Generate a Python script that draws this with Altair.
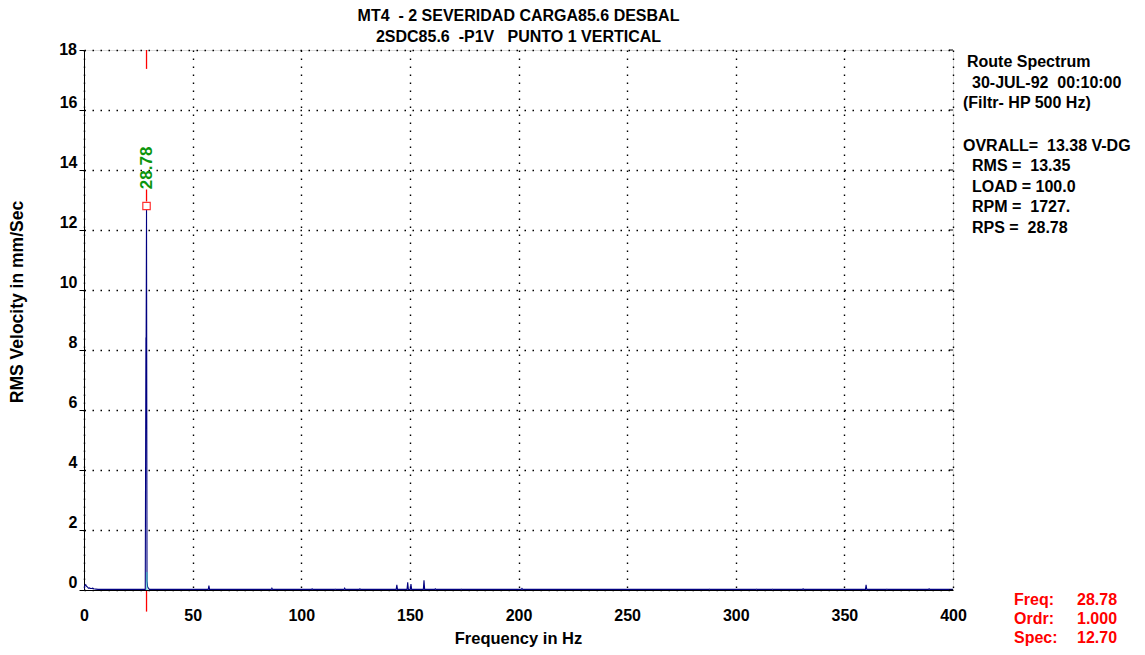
import altair as alt
import pandas as pd

# ---------------- data ----------------
FREQ = [0.0, 0.4, 0.8, 1.2, 1.6, 2.0, 2.5, 3.0, 3.5, 4.0, 4.5, 5.5, 6.5,
        28.2, 28.5, 28.6, 28.78, 29.0, 29.3, 29.7, 30.1,
        57.2, 57.5, 57.8,
        86.2, 86.5, 86.8,
        104.7, 105.0, 105.3,
        115.3, 115.6, 115.9,
        119.7, 120.0, 120.3,
        126.7, 127.0, 127.3,
        143.7, 144.0, 144.3,
        148.7, 149.0, 149.3,
        150.2, 150.5, 150.8,
        156.2, 156.5, 156.8,
        161.4, 161.7, 162.0,
        173.3, 173.6, 173.9,
        201.3, 201.6, 201.9,
        287.7, 288.0, 288.3,
        309.2, 309.5, 309.8,
        316.7, 317.0, 317.3,
        330.7, 331.0, 331.3,
        359.7, 360.0, 360.3,
        369.3, 369.6, 369.9,
        388.7, 389.0, 389.3,
        400.0]
AMP = [0.03, 0.15, 0.18, 0.12, 0.10, 0.06, 0.07, 0.05, 0.05, 0.06, 0.04, 0.03, 0.02,
       0.02, 8.4, 8.4, 12.8, 0.3, 0.1, 0.06, 0.02,
       0.02, 0.15, 0.02,
       0.02, 0.06, 0.02,
       0.02, 0.04, 0.02,
       0.02, 0.03, 0.02,
       0.02, 0.06, 0.02,
       0.02, 0.04, 0.02,
       0.02, 0.17, 0.02,
       0.02, 0.26, 0.02,
       0.02, 0.20, 0.02,
       0.02, 0.32, 0.02,
       0.02, 0.04, 0.02,
       0.02, 0.03, 0.02,
       0.02, 0.05, 0.02,
       0.02, 0.03, 0.02,
       0.02, 0.03, 0.02,
       0.02, 0.03, 0.02,
       0.02, 0.04, 0.02,
       0.02, 0.17, 0.02,
       0.02, 0.03, 0.02,
       0.02, 0.04, 0.02,
       0.02]

PEAK_FREQ = 28.78
PEAK_AMP = 12.8
PEAK_LABEL = "28.78"
LABEL_LEVEL = 14.07
CYAN_FREQ = 28.95
CYAN_TOP = 0.6
# red cursor segments (start, end) in mm/Sec
CURSOR_SEG_START = [18.0, 13.35, -0.03]
CURSOR_SEG_END = [17.37, 12.95, -0.72]

X_TICKS = [0, 50, 100, 150, 200, 250, 300, 350, 400]
Y_TICKS = [0, 2, 4, 6, 8, 10, 12, 14, 16, 18]
Y_TOP = 18

TITLE_LINES = ["MT4\u00a0 - 2 SEVERIDAD CARGA85.6 DESBAL",
               "2SDC85.6\u00a0 -P1V\u00a0\u00a0 PUNTO 1 VERTICAL"]
INFO_LINES = ["Route Spectrum", "30-JUL-92\u00a0 00:10:00", "(Filtr- HP 500 Hz)",
              "OVRALL=\u00a0 13.38 V-DG", "RMS =\u00a0 13.35", "LOAD = 100.0",
              "RPM =\u00a0 1727.", "RPS =\u00a0 28.78"]
CURSOR_LABELS = ["Freq:", "Ordr:", "Spec:"]
CURSOR_VALUES = ["28.78", "1.000", "12.70"]
X_TITLE = "Frequency in Hz"
Y_TITLE = "RMS Velocity in mm/Sec"

# ---------------- layout ----------------
W, H = 869, 540
FONT = "Liberation Sans"
NAVY = "#000080"
FS = 16

spec = pd.DataFrame({"f": FREQ, "a": AMP})

xscale = alt.Scale(domain=[0, 400], nice=False, zero=False)
yscale = alt.Scale(domain=[0, 18], nice=False)

xaxis = alt.Axis(values=X_TICKS, title=None, grid=True, gridColor="black",
                 gridDash=[1.5, 6.5], gridWidth=1.4, gridOpacity=1,
                 domainColor="black", ticks=False, labelPadding=17,
                 labelFont=FONT, labelFontWeight="bold", labelFontSize=FS,
                 labelColor="black", labelBaseline="top", labelFlush=False)
yaxis = alt.Axis(values=Y_TICKS, title=None, grid=True, gridColor="black",
                 gridDash=[1.5, 6.5], gridWidth=1.4, gridOpacity=1,
                 domainColor="black", tickColor="black", tickSize=5,
                 labelPadding=2, labelFont=FONT, labelFontWeight="bold",
                 labelFontSize=FS, labelColor="black", labelBaseline="bottom",
                 labelExpr="datum.value == 18 ? '' : datum.label")

line = alt.Chart(spec).mark_line(color=NAVY, strokeWidth=1.1, clip=True).encode(
    x=alt.X("f:Q", scale=xscale, axis=xaxis),
    y=alt.Y("a:Q", scale=yscale, axis=yaxis),
)

# the top tick label sits centred on its tick
top_lab = alt.Chart(pd.DataFrame({"v": [Y_TOP], "t": [str(Y_TOP)]})).mark_text(
    font=FONT, fontSize=FS, fontWeight="bold", color="black", align="right",
    baseline="middle", clip=False).encode(
    x=alt.value(-7), y=alt.Y("v:Q", scale=yscale), text="t:N")

# small ticks inside the right border
rticks = alt.Chart(pd.DataFrame({"v": Y_TICKS})).mark_rule(
    color="black", strokeWidth=1).encode(
    y=alt.Y("v:Q", scale=yscale), x=alt.value(W - 4), x2=alt.value(W))

peak = pd.DataFrame({"f": [PEAK_FREQ], "a": [PEAK_AMP], "lab": [PEAK_LABEL],
                     "lv": [LABEL_LEVEL]})
cyan_df = pd.DataFrame({"f": [CYAN_FREQ], "z": [0.0], "c": [CYAN_TOP]})

cyan = alt.Chart(cyan_df).mark_rule(color="#30c8c8", strokeWidth=1).encode(
    x=alt.X("f:Q", scale=xscale), y=alt.Y("z:Q", scale=yscale), y2="c:Q")

segs = pd.DataFrame({"f": [PEAK_FREQ] * 3, "s": CURSOR_SEG_START, "e": CURSOR_SEG_END})
red = alt.Chart(segs).mark_rule(color="red", strokeWidth=1.3, clip=False).encode(
    x=alt.X("f:Q", scale=xscale), y=alt.Y("s:Q", scale=yscale), y2="e:Q")

marker_fill = alt.Chart(peak).mark_point(shape="square", size=40, fill="white",
                                         filled=True, opacity=1, strokeWidth=0).encode(
    x=alt.X("f:Q", scale=xscale), y=alt.Y("a:Q", scale=yscale))
marker = alt.Chart(peak).mark_point(shape="square", size=55, color="#ff3030",
                                    filled=False, strokeWidth=1.2, opacity=1).encode(
    x=alt.X("f:Q", scale=xscale), y=alt.Y("a:Q", scale=yscale))

green = alt.Chart(peak).mark_text(color="#0c950c", font=FONT, fontSize=17,
                                  angle=270, align="center", baseline="middle",
                                  fontWeight="bold").encode(
    x=alt.X("f:Q", scale=xscale), y=alt.Y("lv:Q", scale=yscale), text="lab:N")


def txt(s, x, y, align="left", color="black", size=FS, angle=0):
    return alt.Chart(pd.DataFrame({"t": [s]})).mark_text(
        font=FONT, fontSize=size, fontWeight="bold", color=color, align=align,
        baseline="middle", angle=angle).encode(
        text="t:N", x=alt.value(x), y=alt.value(y))


ann = []
ann.append(txt(TITLE_LINES[0], 434.5, -34, align="center"))
ann.append(txt(TITLE_LINES[1], 434.5, -13, align="center"))
info_x = [883, 888, 879, 879, 888, 888, 888, 888]
info_y = [12, 33, 53, 96, 116, 137, 157, 178]
for s, xx, yy in zip(INFO_LINES, info_x, info_y):
    ann.append(txt(s, xx, yy))
cur_y = [550, 569, 588]
for lab, val, yy in zip(CURSOR_LABELS, CURSOR_VALUES, cur_y):
    ann.append(txt(lab, 930, yy, color="red"))
    ann.append(txt(val, 993, yy, color="red"))
ann.append(txt(X_TITLE, 434.5, 589, align="center", size=16.5))
ann.append(txt(Y_TITLE, -66, 252, align="center", angle=270, size=17.5))

chart = alt.layer(line, top_lab, rticks, cyan, red, marker_fill, marker,
                  green, *ann).properties(
    width=W, height=H,
    autosize=alt.AutoSizeParams(type="none"),
    padding={"left": 76, "top": 42, "right": 184, "bottom": 57},
).configure_view(stroke="black", strokeWidth=1.2).configure(background="white")

chart.save("out.html", embed_options={"renderer": "svg", "actions": False})
